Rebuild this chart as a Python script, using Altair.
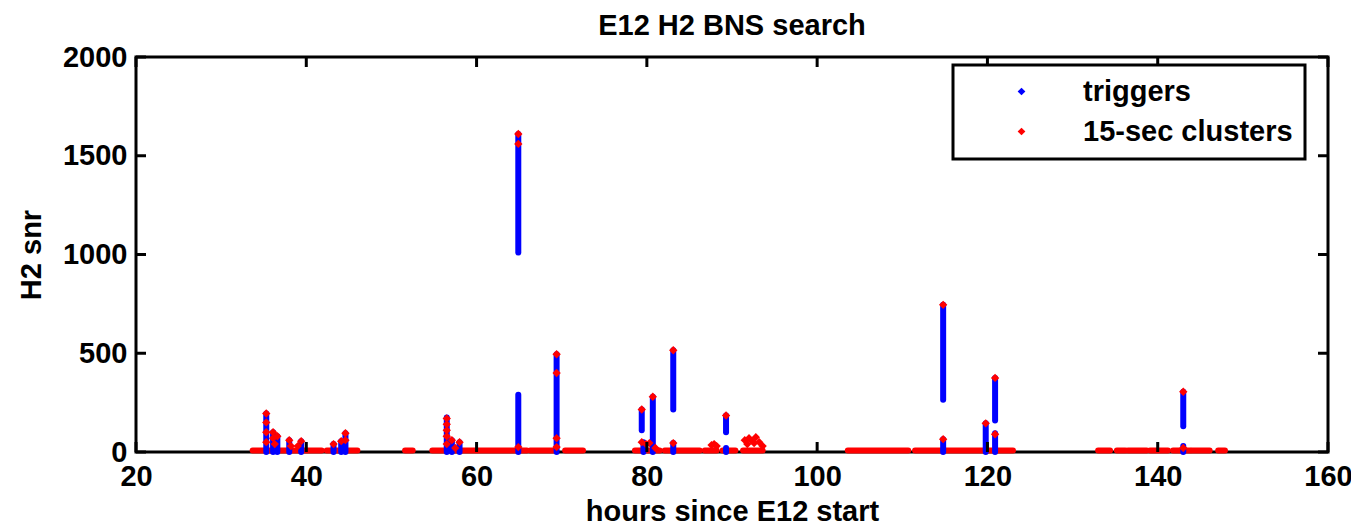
import altair as alt
import pandas as pd

# ---- data ----
streak_hours = [35.3, 36.1, 36.6, 38.0, 39.4, 43.2, 44.1, 44.6,
                56.5, 57.1, 58.0,
                64.9, 64.9,
                69.4,
                79.4, 79.6, 80.7,
                83.1, 83.1,
                89.3, 89.3,
                114.8, 114.8,
                119.8,
                120.9, 120.9,
                143.0, 143.0]
streak_lo = [0, 0, 0, 0, 0, 0, 0, 0,
             0, 0, 0,
             0, 1010,
             0,
             110, 0, 0,
             215, 0,
             100, 0,
             265, 0,
             0,
             160, 0,
             130, 0]
streak_hi = [195, 100, 80, 60, 55, 40, 55, 95,
             175, 60, 50,
             290, 1610,
             495,
             215, 50, 280,
             515, 45,
             185, 20,
             745, 65,
             145,
             375, 95,
             305, 30]

cluster_hours = [35.3, 35.3, 35.3, 35.3, 36.1, 36.1, 36.6, 36.3, 38.0, 38.2, 39.4, 39.0,
                 43.2, 44.1, 44.6, 44.6,
                 56.5, 56.5, 56.5, 56.5, 56.5, 57.1, 58.0, 57.5,
                 64.9, 64.9, 64.9,
                 69.4, 69.4, 69.4, 69.4,
                 79.4, 79.4, 79.9, 80.7, 80.3, 81.0,
                 83.1, 83.1,
                 87.6, 87.9, 88.2,
                 89.3,
                 91.5, 92.0, 92.4, 92.8, 93.2, 93.6, 91.8, 92.6,
                 114.8, 114.8,
                 119.8,
                 120.9, 120.9,
                 143.0, 143.0]
cluster_snr = [195, 150, 100, 50, 100, 70, 80, 40, 60, 30, 55, 30,
               40, 55, 95, 60,
               170, 140, 110, 80, 40, 60, 50, 20,
               1610, 1560, 25,
               495, 400, 70, 25,
               215, 50, 40, 280, 45, 20,
               515, 45,
               35, 40, 30,
               185,
               60, 70, 55, 75, 50, 30, 40, 45,
               745, 65,
               145,
               375, 90,
               305, 20]

band_start = [33.7, 42.4, 51.6, 54.8, 66.3, 70.4, 78.6, 82.1, 86.8, 88.9, 91.3,
              103.6, 111.5, 133.0, 135.2, 136.5, 139.1, 141.8, 144.0, 147.1]
band_end = [41.8, 46.0, 52.5, 65.9, 69.0, 72.5, 81.5, 86.2, 88.2, 90.4, 93.6,
            110.7, 123.0, 134.4, 136.2, 138.7, 141.2, 143.8, 146.1, 147.9]
band_snr = [8] * len(band_start)

x_ticks = [20, 40, 60, 80, 100, 120, 140, 160]
y_ticks = [0, 500, 1000, 1500, 2000]

series_names = ["triggers", "15-sec clusters"]
series_colors = ["#0000ff", "#ff0000"]

W, H = 1192, 395
FONT = "Liberation Sans"
FS = 29

streaks = pd.DataFrame({"hours": streak_hours, "lo": streak_lo, "hi": streak_hi})
clusters = pd.DataFrame({"hours": cluster_hours, "snr": cluster_snr,
                         "series": ["15-sec clusters"] * len(cluster_hours)})
bands = pd.DataFrame({"start": band_start, "end": band_end, "snr": band_snr})
xt = pd.DataFrame({"t": x_ticks})
yt = pd.DataFrame({"t": y_ticks})

xs = alt.Scale(domain=[20, 160], nice=False, zero=False)
ys = alt.Scale(domain=[0, 2000], nice=False)

x_axis = alt.Axis(values=x_ticks, title="hours since E12 start", domain=False,
                  ticks=False, grid=False, labelPadding=10, titlePadding=6,
                  labelFlush=False, format="d")
y_axis = alt.Axis(values=y_ticks, title="H2 snr", domain=False, ticks=False,
                  grid=False, labelPadding=9, titlePadding=16,
                  labelFlush=False, format="d")

band_layer = alt.Chart(bands).mark_rule(color="#ff0000", strokeWidth=6, strokeCap="round").encode(
    x=alt.X("start:Q", scale=xs, axis=x_axis),
    x2="end:Q",
    y=alt.Y("snr:Q", scale=ys, axis=y_axis),
)

streak_layer = alt.Chart(streaks).mark_rule(color="#0000ff", strokeWidth=6, strokeCap="round").encode(
    x=alt.X("hours:Q", scale=xs, axis=x_axis),
    y=alt.Y("lo:Q", scale=ys, axis=y_axis),
    y2="hi:Q",
)

point_layer = alt.Chart(clusters).mark_point(filled=True, shape="diamond", size=70, opacity=1).encode(
    x=alt.X("hours:Q", scale=xs, axis=x_axis),
    y=alt.Y("snr:Q", scale=ys, axis=y_axis),
    color=alt.Color("series:N",
                    scale=alt.Scale(domain=series_names, range=series_colors),
                    legend=alt.Legend(title=None, orient="none", legendX=817, legendY=8,
                                      symbolType="diamond", symbolSize=60,
                                      symbolOffset=42, labelOffset=47,
                                      labelFont=FONT, labelFontSize=FS, labelFontWeight="bold",
                                      labelColor="black", padding=12, rowPadding=10,
                                      strokeColor="black", fillColor="white",
                                      labelLimit=400)),
)

tick_bottom = alt.Chart(xt).mark_rule(color="black", strokeWidth=3).encode(
    x=alt.X("t:Q", scale=xs, axis=x_axis), y=alt.value(H), y2=alt.value(H - 10))
tick_top = alt.Chart(xt).mark_rule(color="black", strokeWidth=3).encode(
    x=alt.X("t:Q", scale=xs, axis=x_axis), y=alt.value(0), y2=alt.value(10))
tick_left = alt.Chart(yt).mark_rule(color="black", strokeWidth=3).encode(
    y=alt.Y("t:Q", scale=ys, axis=y_axis), x=alt.value(0), x2=alt.value(10))
tick_right = alt.Chart(yt).mark_rule(color="black", strokeWidth=3).encode(
    y=alt.Y("t:Q", scale=ys, axis=y_axis), x=alt.value(W), x2=alt.value(W - 10))

chart = alt.layer(
    band_layer, streak_layer, point_layer, tick_bottom, tick_top, tick_left, tick_right
).properties(
    width=W, height=H,
    title=alt.TitleParams("E12 H2 BNS search", font=FONT, fontSize=FS, fontWeight="bold",
                          color="black", anchor="middle", offset=2),
    autosize=alt.AutoSizeParams(type="none"),
    padding={"left": 128, "top": 49, "right": 23, "bottom": 72},
).configure_view(
    stroke="black", strokeWidth=3
).configure_axis(
    labelFont=FONT, labelFontSize=FS, labelFontWeight="bold", labelColor="black",
    titleFont=FONT, titleFontSize=FS, titleFontWeight="bold", titleColor="black",
).configure_legend(
    strokeWidth=3
)

chart.save("out.html", embed_options={"renderer": "svg", "actions": False})
